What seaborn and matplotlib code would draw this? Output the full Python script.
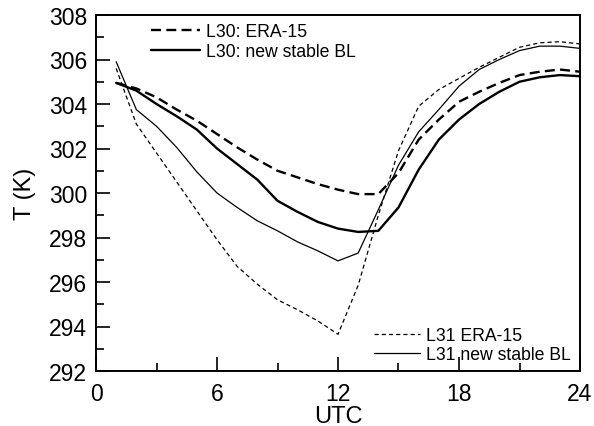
import matplotlib
matplotlib.use("Agg")
import matplotlib.pyplot as plt
import numpy as np
import pandas as pd
import seaborn as sns

# ---- data ----
hours = list(range(1, 25))
l30_era15 = [304.95, 304.7, 304.3, 303.75, 303.25, 302.65, 302.05, 301.5, 301.0, 300.7, 300.4, 300.15,
             299.95, 299.95, 300.9, 302.4, 303.3, 304.1, 304.55, 304.95, 305.3, 305.45, 305.55, 305.45]
l30_newbl = [304.95, 304.6, 304.0, 303.45, 302.85, 302.0, 301.3, 300.6, 299.65, 299.15, 298.7, 298.4,
             298.25, 298.3, 299.35, 301.05, 302.4, 303.3, 304.0, 304.55, 305.0, 305.2, 305.3, 305.25]
l31_era15 = [305.6, 303.1, 301.8, 300.5, 299.2, 297.9, 296.7, 295.9, 295.2, 294.75, 294.25, 293.65,
             295.85, 299.0, 301.9, 303.9, 304.65, 305.15, 305.65, 306.1, 306.55, 306.75, 306.8, 306.7]
l31_newbl = [305.9, 303.75, 303.0, 302.05, 300.95, 300.0, 299.35, 298.75, 298.3, 297.8, 297.4, 296.95,
             297.3, 299.25, 301.25, 302.75, 303.75, 304.8, 305.55, 306.0, 306.4, 306.6, 306.6, 306.5]

series_labels = ["L30: ERA-15", "L30: new stable BL", "L31 ERA-15", "L31 new stable BL"]
x_ticks = [0, 6, 12, 18, 24]
y_ticks = [292, 294, 296, 298, 300, 302, 304, 306, 308]
x_label = "UTC"
y_label = "T (K)"

df = pd.DataFrame({
    "UTC": hours * 4,
    "T": l30_era15 + l30_newbl + l31_era15 + l31_newbl,
    "series": sum([[s] * len(hours) for s in series_labels], []),
})

# ---- style ----
sns.set_style("ticks")
plt.rcParams["font.family"] = ["Liberation Sans", "DejaVu Sans"]
plt.rcParams["lines.scale_dashes"] = False
for key in ["text.color", "axes.labelcolor", "xtick.color", "ytick.color", "axes.edgecolor"]:
    plt.rcParams[key] = "black"

fig = plt.figure(figsize=(5.94, 4.27), dpi=100)
ax = fig.add_axes([96 / 594, 1 - 372 / 427, 484 / 594, 356 / 427])

styles = {
    "L30: ERA-15": dict(linewidth=1.7, linestyle=(0, (7.2, 3.8))),
    "L30: new stable BL": dict(linewidth=1.7, linestyle="-"),
    "L31 ERA-15": dict(linewidth=0.9, linestyle=(0, (3.0, 2.2))),
    "L31 new stable BL": dict(linewidth=0.9, linestyle="-"),
}

lines = {}
for name in series_labels:
    sub = df[df["series"] == name]
    sns.lineplot(data=sub, x="UTC", y="T", ax=ax, color="black", legend=False,
                 label=name, **styles[name])
    lines[name] = ax.get_lines()[-1]

ax.set_xlim(0, 24)
ax.set_ylim(292, 308)
ax.set_xticks(x_ticks)
ax.set_yticks(y_ticks)
ax.set_xticks([3, 9, 15, 21], minor=True)
ax.set_yticks(np.arange(293, 308, 2), minor=True)
ax.tick_params(axis="both", which="major", direction="in", length=10, width=1.2,
               labelsize=16.5, top=False, right=False, colors="black")
ax.tick_params(axis="both", which="minor", direction="in", length=6, width=1.2,
               top=False, right=False, colors="black")
ax.tick_params(axis="y", which="major", pad=6.5)
ax.tick_params(axis="x", which="major", pad=8)
for sp in ax.spines.values():
    sp.set_linewidth(1.4)
    sp.set_color("black")

ax.set_xlabel(x_label, fontsize=17, labelpad=0, color="black")
ax.set_ylabel(y_label, fontsize=17, labelpad=9, color="black")

leg1 = ax.legend([lines[series_labels[0]], lines[series_labels[1]]], series_labels[:2],
                 loc="center left", bbox_to_anchor=((151 - 96) / 484, (372 - 42.5) / 356),
                 frameon=False, fontsize=12.7, handlelength=2.8, handletextpad=0.3,
                 labelspacing=0.15, borderpad=0, borderaxespad=0, labelcolor="black")
ax.add_artist(leg1)
ax.legend([lines[series_labels[2]], lines[series_labels[3]]], series_labels[2:],
          loc="center left", bbox_to_anchor=((374 - 96) / 484, (372 - 346) / 356),
          frameon=False, fontsize=12.7, handlelength=2.6, handletextpad=0.35,
          labelspacing=0.15, borderpad=0, borderaxespad=0, labelcolor="black")

fig.savefig("out.png", dpi=100)
